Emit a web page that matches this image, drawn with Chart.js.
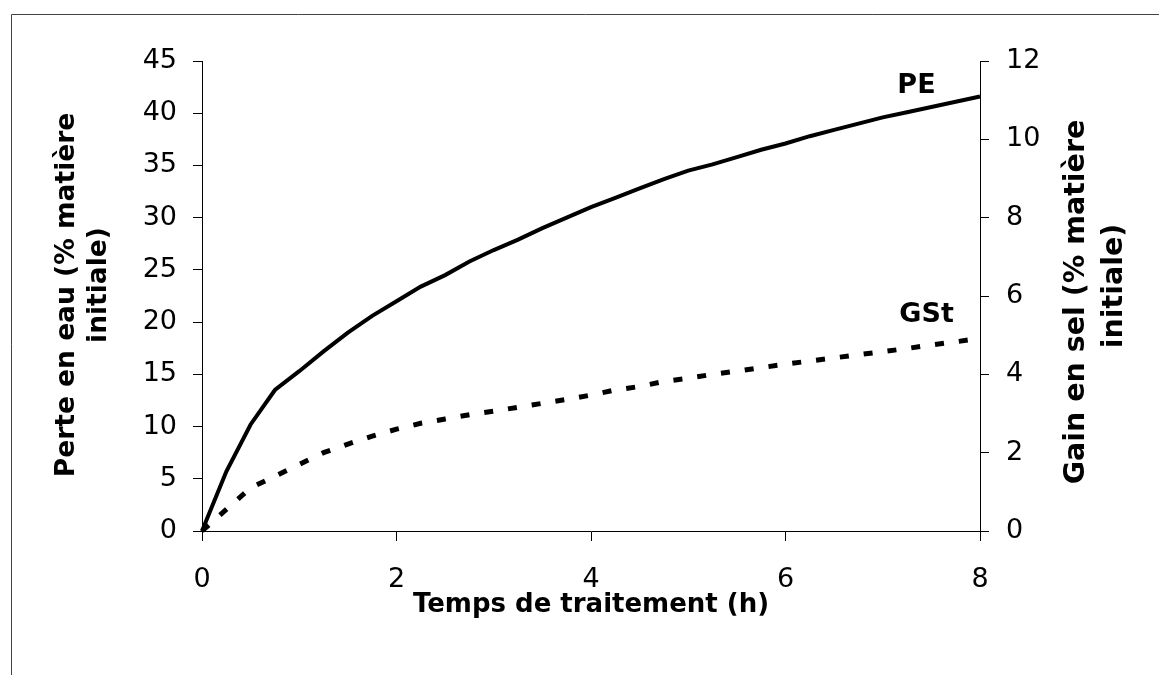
<!DOCTYPE html>
<html><head><meta charset="utf-8">
<script src="https://cdn.jsdelivr.net/npm/chart.js@4.4.1/dist/chart.umd.min.js"></script>
<style>html,body{margin:0;padding:0;background:#fff;}canvas{display:block;}</style>
</head><body>
<canvas id="c" width="1159" height="675"></canvas>
<script>
// ---- data ----
const times = [0,0.25,0.5,0.75,1,1.25,1.5,1.75,2,2.25,2.5,2.75,3,3.25,3.5,3.75,4,4.25,4.5,4.75,5,5.25,5.5,5.75,6,6.25,6.5,6.75,7,7.25,7.5,7.75,8];
const peValues = [0,5.7,10.2,13.5,15.3,17.2,19.0,20.6,22.0,23.4,24.5,25.8,26.9,27.9,29.0,30.0,31.0,31.9,32.8,33.7,34.5,35.1,35.8,36.5,37.1,37.8,38.4,39.0,39.6,40.1,40.6,41.1,41.6];
const gstValues = [0,0.55,1.1,1.4,1.7,2.0,2.22,2.42,2.6,2.75,2.86,2.97,3.06,3.16,3.26,3.36,3.47,3.6,3.69,3.82,3.9,4.0,4.08,4.17,4.26,4.34,4.42,4.5,4.58,4.66,4.75,4.83,4.92];
const xTickValues = [0,2,4,6,8];
const leftTickValues = [0,5,10,15,20,25,30,35,40,45];
const rightTickValues = [0,2,4,6,8,10,12];
const seriesNames = ['PE','GSt'];
// label anchors (data coords): [time, value, axis]
const labelAnchors = [[7.15, 41.9, 'y'], [7.17, 5.34, 'y2']];
const xTitle = 'Temps de traitement (h)';
const leftTitle = ['Perte en eau (% matière', 'initiale)'];
const rightTitle = ['Gain en sel (% matière', 'initiale)'];

const FONT = "'DejaVu Sans', 'Liberation Sans', Arial, sans-serif";

const toPts = vals => vals.map((v, i) => ({x: times[i], y: v}));

function drawRotated(ctx, text, x, y) {
  ctx.save();
  ctx.translate(x, y);
  ctx.rotate(-Math.PI / 2);
  ctx.fillText(text, 0, 0);
  ctx.restore();
}

const decor = {
  id: 'decor',
  afterDraw(chart) {
    const ctx = chart.ctx;
    const ca = chart.chartArea;
    const cy = (ca.top + ca.bottom) / 2;
    ctx.save();
    // frame (top and left)
    ctx.strokeStyle = '#444';
    ctx.lineWidth = 1;
    ctx.beginPath();
    ctx.moveTo(11.5, 675);
    ctx.lineTo(11.5, 14.5);
    ctx.lineTo(1159, 14.5);
    ctx.stroke();
    // series labels
    ctx.fillStyle = '#000';
    ctx.font = "bold 27px " + FONT;
    ctx.textAlign = 'left';
    ctx.textBaseline = 'alphabetic';
    labelAnchors.forEach((a, i) => {
      const px = chart.scales.x.getPixelForValue(a[0]);
      const py = chart.scales[a[2]].getPixelForValue(a[1]);
      ctx.fillText(seriesNames[i], px, py);
    });
    // axis titles (both read bottom to top)
    ctx.textAlign = 'center';
    ctx.textBaseline = 'middle';
    ctx.font = "bold 26.5px " + FONT;
    drawRotated(ctx, leftTitle[0], ca.left - 135, cy - 1);
    drawRotated(ctx, leftTitle[1], ca.left - 103, cy - 11);
    ctx.font = "bold 28.5px " + FONT;
    drawRotated(ctx, rightTitle[0], ca.right + 97, cy + 6);
    drawRotated(ctx, rightTitle[1], ca.right + 135, cy - 10);
    ctx.restore();
  }
};

const tickFont = {family: FONT, size: 27, lineHeight: 1.2};

new Chart(document.getElementById('c'), {
  type: 'line',
  data: {
    datasets: [
      {label: seriesNames[0], data: toPts(peValues), yAxisID: 'y', borderColor: '#000', borderWidth: 4, pointRadius: 0, tension: 0, clip: false, fill: false},
      {label: seriesNames[1], data: toPts(gstValues), yAxisID: 'y2', borderColor: '#000', borderWidth: 5, borderDash: [9, 15], borderCapStyle: 'butt', pointRadius: 0, tension: 0, clip: false, fill: false}
    ]
  },
  options: {
    responsive: false,
    animation: false,
    devicePixelRatio: 1,
    layout: {padding: {top: 61, left: 0, right: 0, bottom: 0}},
    plugins: {legend: {display: false}, tooltip: {enabled: false}},
    scales: {
      x: {
        type: 'linear', min: 0, max: 8,
        afterBuildTicks: s => { s.ticks = xTickValues.map(v => ({value: v})); },
        afterFit: s => { s.height = 675 - 531; },
        grid: {drawOnChartArea: false, drawTicks: true, tickLength: 10, color: '#000', lineWidth: 1},
        border: {display: true, color: '#000', width: 1},
        ticks: {color: '#000', font: tickFont, padding: 23, maxRotation: 0, autoSkip: false},
        title: {display: true, text: xTitle, color: '#000', font: {family: FONT, size: 26, weight: 'bold', lineHeight: 1.2}, padding: {top: 0, bottom: 54}}
      },
      y: {
        type: 'linear', position: 'left', min: 0, max: 45,
        afterBuildTicks: s => { s.ticks = leftTickValues.map(v => ({value: v})); },
        afterFit: s => { s.width = 202; },
        grid: {drawOnChartArea: false, drawTicks: true, tickLength: 9, color: '#000', lineWidth: 1},
        border: {display: true, color: '#000', width: 1},
        ticks: {color: '#000', font: tickFont, padding: 16, autoSkip: false},
        title: {display: false}
      },
      y2: {
        type: 'linear', position: 'right', min: 0, max: 12,
        afterBuildTicks: s => { s.ticks = rightTickValues.map(v => ({value: v})); },
        afterFit: s => { s.width = 1159 - 980; },
        grid: {drawOnChartArea: false, drawTicks: true, tickLength: 9, color: '#000', lineWidth: 1},
        border: {display: true, color: '#000', width: 1},
        ticks: {color: '#000', font: tickFont, padding: 17, autoSkip: false},
        title: {display: false}
      }
    }
  },
  plugins: [decor]
});
</script>
</body></html>
